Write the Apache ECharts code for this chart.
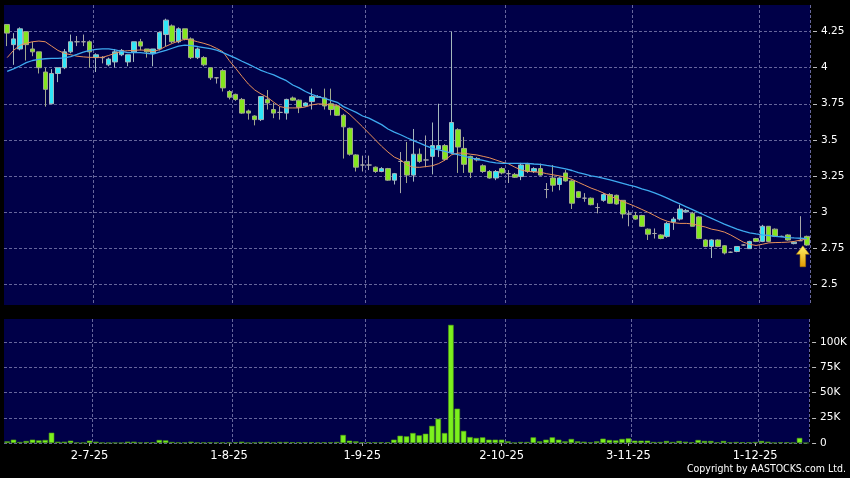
<!DOCTYPE html>
<html><head><meta charset="utf-8">
<script src="https://cdn.jsdelivr.net/npm/echarts@6/dist/echarts.min.js"></script>
<style>html,body{margin:0;padding:0;background:#000}#c{width:850px;height:478px}</style>
</head><body><div id="c"></div>
<script>
// trading days (d-m-yy)
const jun = [12,13,16,17,18,19,20,23,24,25,26,27,30];
const jul = [2,3,4,7,8,9,10,11,14,15,16,17,18,21,22,23,24,25,28,29,30,31];
const aug = [1,4,5,6,7,8,11,12,13,14,15,18,19,20,21,22,25,26,27,28,29];
const sep = [1,2,3,4,5,8,9,10,11,12,15,16,17,18,19,22,23,24,25,26,29,30];
const oct = [2,3,6,8,9,10,13,14,15,16,17,20,21,22,23,24,27,28,30,31];
const nov = [3,4,5,6,7,10,11,12,13,14,17,18,19,20,21,24,25,26,27,28];
const dec = [1,2,3,4,5,8,9,10,11];
const categories = [].concat(
  jun.map(d => d + '-6-25'), jul.map(d => d + '-7-25'), aug.map(d => d + '-8-25'),
  sep.map(d => d + '-9-25'), oct.map(d => d + '-10-25'), nov.map(d => d + '-11-25'),
  dec.map(d => d + '-12-25'));
const tickLabels = ['2-7-25','1-8-25','1-9-25','2-10-25','3-11-25','1-12-25'];
const priceTicks = [2.5, 2.75, 3, 3.25, 3.5, 3.75, 4, 4.25];
const volumeTicks = [0, 25000, 50000, 75000, 100000];

const opens = [
4.30,4.16,4.13,4.25,4.13,4.11,3.97,3.75,3.96,4.00,
4.11,4.18,4.18,4.18,4.07,4.07,4.02,4.04,4.09,4.04,
4.11,4.18,4.13,4.10,4.13,4.23,4.29,4.18,4.27,4.20,
4.07,4.07,4.00,3.93,3.98,3.835,3.815,3.78,3.70,3.665,
3.64,3.78,3.71,3.69,3.685,3.79,3.775,3.735,3.765,3.795,
3.79,3.75,3.735,3.67,3.58,3.395,3.325,3.325,3.31,3.28,
3.30,3.22,3.35,3.35,3.255,3.40,3.36,3.385,3.435,3.46,
3.41,3.57,3.44,3.385,3.37,3.32,3.28,3.235,3.30,3.265,
3.26,3.245,3.33,3.28,3.30,3.155,3.235,3.19,3.27,3.215,
3.14,3.095,3.095,3.03,3.08,3.12,3.115,3.08,2.985,2.975,
2.975,2.88,2.85,2.84,2.83,2.93,2.95,3.00,2.99,2.965,
2.805,2.76,2.805,2.765,2.72,2.725,2.77,2.745,2.815,2.795,
2.90,2.88,2.83,2.84,2.78,2.80,2.83];
const closes = [
4.24,4.20,4.27,4.16,4.11,4.00,3.85,3.96,4.00,4.11,
4.18,4.18,4.18,4.11,4.09,4.07,4.06,4.11,4.12,4.09,
4.18,4.15,4.11,4.13,4.245,4.33,4.18,4.27,4.20,4.07,
4.13,4.02,3.93,3.93,3.86,3.795,3.78,3.685,3.685,3.64,
3.80,3.755,3.685,3.69,3.78,3.775,3.725,3.755,3.80,3.80,
3.735,3.71,3.67,3.59,3.40,3.31,3.325,3.325,3.28,3.30,
3.22,3.265,3.35,3.255,3.40,3.35,3.36,3.46,3.46,3.365,
3.62,3.45,3.33,3.275,3.36,3.28,3.235,3.28,3.27,3.265,
3.24,3.325,3.28,3.30,3.255,3.155,3.185,3.235,3.215,3.06,
3.10,3.095,3.05,3.03,3.12,3.06,3.055,2.985,2.985,2.95,
2.90,2.845,2.85,2.815,2.92,2.95,3.02,3.01,2.90,2.815,
2.76,2.805,2.76,2.715,2.72,2.76,2.77,2.795,2.795,2.90,
2.795,2.83,2.83,2.805,2.79,2.80,2.77];
const lows = [
4.15,4.02,4.12,4.05,4.08,3.96,3.73,3.75,3.90,3.99,
4.10,4.15,4.15,4.00,3.97,4.03,4.01,4.00,4.08,4.01,
4.04,4.12,4.07,4.01,4.12,4.15,4.17,4.17,4.19,4.06,
4.06,4.01,3.915,3.89,3.835,3.78,3.77,3.68,3.64,3.60,
3.63,3.71,3.65,3.64,3.64,3.77,3.685,3.73,3.71,3.79,
3.71,3.67,3.665,3.37,3.39,3.28,3.28,3.29,3.27,3.275,
3.215,3.19,3.13,3.20,3.21,3.34,3.31,3.26,3.38,3.355,
3.40,3.27,3.27,3.235,3.35,3.27,3.23,3.22,3.26,3.20,
3.235,3.22,3.27,3.27,3.25,3.095,3.14,3.15,3.21,3.02,
3.095,3.07,3.045,2.99,3.07,3.055,3.05,2.955,2.90,2.945,
2.895,2.805,2.815,2.81,2.82,2.875,2.94,2.995,2.90,2.81,
2.755,2.68,2.755,2.705,2.715,2.72,2.765,2.745,2.79,2.79,
2.79,2.825,2.825,2.80,2.775,2.80,2.765];
const highs = [
4.30,4.24,4.28,4.25,4.18,4.11,4.00,3.99,4.00,4.13,
4.23,4.22,4.23,4.19,4.10,4.08,4.07,4.13,4.13,4.09,
4.18,4.20,4.13,4.13,4.25,4.34,4.30,4.28,4.27,4.21,
4.14,4.08,4.00,3.935,3.99,3.845,3.82,3.79,3.71,3.67,
3.80,3.845,3.755,3.73,3.785,3.80,3.78,3.76,3.855,3.81,
3.855,3.855,3.74,3.68,3.585,3.40,3.39,3.39,3.315,3.31,
3.305,3.27,3.415,3.485,3.575,3.44,3.53,3.62,3.75,3.47,
4.25,3.58,3.52,3.39,3.38,3.33,3.29,3.29,3.31,3.29,
3.27,3.34,3.34,3.31,3.335,3.20,3.325,3.24,3.29,3.22,
3.145,3.13,3.10,3.06,3.13,3.13,3.12,3.08,3.01,3.00,
2.98,2.885,2.885,2.845,2.93,2.965,3.05,3.02,3.00,2.97,
2.81,2.81,2.81,2.77,2.725,2.76,2.775,2.80,2.82,2.91,
2.90,2.885,2.835,2.845,2.795,2.97,2.835];
const maShort = [
4.07,4.12,4.155,4.17,4.18,4.185,4.18,4.15,4.12,4.10,
4.09,4.08,4.075,4.072,4.072,4.072,4.085,4.10,4.113,4.118,
4.12,4.123,4.12,4.112,4.125,4.148,4.168,4.185,4.197,4.192,
4.18,4.169,4.155,4.134,4.111,4.049,3.996,3.94,3.887,3.846,
3.818,3.795,3.761,3.73,3.721,3.721,3.721,3.728,3.742,3.749,
3.747,3.74,3.74,3.71,3.675,3.633,3.59,3.545,3.50,3.455,
3.415,3.38,3.36,3.325,3.31,3.309,3.314,3.32,3.335,3.36,
3.395,3.408,3.407,3.40,3.395,3.385,3.375,3.36,3.345,3.333,
3.31,3.29,3.281,3.277,3.275,3.265,3.257,3.25,3.24,3.225,
3.205,3.185,3.165,3.149,3.13,3.11,3.09,3.072,3.055,3.037,
3.017,2.997,2.975,2.952,2.935,2.925,2.92,2.92,2.916,2.905,
2.895,2.88,2.872,2.86,2.84,2.815,2.79,2.775,2.767,2.775,
2.785,2.787,2.788,2.79,2.795,2.805,2.81];
const maLong = [
3.975,3.992,4.012,4.035,4.05,4.058,4.062,4.065,4.065,4.068,
4.077,4.092,4.108,4.12,4.127,4.13,4.13,4.123,4.113,4.105,
4.104,4.104,4.10,4.095,4.108,4.12,4.135,4.15,4.157,4.153,
4.147,4.14,4.132,4.122,4.105,4.085,4.066,4.045,4.025,4.003,
3.982,3.965,3.95,3.93,3.91,3.88,3.86,3.835,3.815,3.80,
3.787,3.774,3.76,3.73,3.71,3.69,3.665,3.65,3.628,3.605,
3.575,3.553,3.535,3.514,3.494,3.477,3.458,3.441,3.43,3.419,
3.408,3.397,3.386,3.375,3.365,3.357,3.347,3.34,3.337,3.337,
3.337,3.337,3.337,3.332,3.33,3.322,3.315,3.307,3.298,3.287,
3.273,3.262,3.25,3.242,3.232,3.222,3.21,3.198,3.186,3.175,
3.16,3.147,3.132,3.115,3.095,3.075,3.055,3.035,3.015,2.995,
2.975,2.955,2.935,2.915,2.897,2.88,2.866,2.855,2.847,2.841,
2.836,2.83,2.826,2.822,2.819,2.817,2.815];
const volumes = [
1600,3300,1000,2000,3300,2600,3000,10200,1300,1300,
2300,500,300,2300,1300,300,200,300,200,1300,
1300,500,700,700,3000,2600,1000,500,500,1300,
500,500,700,500,500,500,700,1300,300,500,
1000,1000,500,1000,1000,700,700,700,700,500,
700,700,1000,8000,2300,1600,700,700,700,700,
700,3300,7200,6600,9900,7600,9200,17000,24000,9900,
117000,34000,12000,5900,5000,5600,3300,3300,3300,1600,
300,1000,1000,5600,1600,3300,5600,3300,1600,4000,
1600,1300,700,1600,4300,3000,2600,4000,4600,2300,
2300,2300,1000,1000,2000,1000,2000,1300,700,3000,
2000,2000,700,2000,700,1000,700,700,1000,2000,
1300,300,700,700,300,5000,0];

const candleData = opens.map((o, i) => [o, closes[i], lows[i], highs[i]]);
const last = categories.length - 1;

const gridLine = { show: true, lineStyle: { color: '#66669c', type: [3, 2], width: 1 } };
const isLabel = (idx, val) => tickLabels.indexOf(val) >= 0;
const isSplit = (idx) => idx > 0 && tickLabels.indexOf(categories[idx - 1]) >= 0;
const font = 'DejaVu Sans';

const chart = echarts.init(document.getElementById('c'), null, { renderer: 'canvas' });
chart.setOption({
  backgroundColor: '#000000',
  animation: false,
  grid: [
    { left: 4, right: 40, top: 5, height: 300, show: true, backgroundColor: '#000048', borderWidth: 0 },
    { left: 4, right: 40, top: 319, height: 124, show: true, backgroundColor: '#000048', borderWidth: 0 }
  ],
  xAxis: [
    { type: 'category', gridIndex: 0, data: categories, boundaryGap: true,
      axisLine: { show: false }, axisTick: { show: false }, axisLabel: { show: false },
      splitLine: Object.assign({ interval: isSplit }, gridLine) },
    { type: 'category', gridIndex: 1, data: categories, boundaryGap: true, offset: 3,
      axisLine: { show: false },
      axisTick: { show: true, alignWithLabel: true, interval: isLabel, length: 3, lineStyle: { color: '#aaaaaa' } },
      axisLabel: { show: true, interval: isLabel, color: '#ffffff', fontFamily: font, fontSize: 11.5, margin: 4 },
      splitLine: Object.assign({ interval: isSplit }, gridLine) }
  ],
  yAxis: [
    { type: 'value', gridIndex: 0, position: 'right', min: 2.354, max: 4.435, offset: 3, scale: true,
      axisLine: { show: false },
      axisTick: { show: true, length: 4, customValues: priceTicks, lineStyle: { color: '#bbbbbb' } },
      axisLabel: { show: true, customValues: priceTicks, color: '#ffffff', fontFamily: font, fontSize: 10.5, margin: 8 },
      splitLine: gridLine },
    { type: 'value', gridIndex: 1, position: 'right', min: 0, max: 122800, offset: 3,
      axisLine: { show: false },
      axisTick: { show: true, length: 4, customValues: volumeTicks, lineStyle: { color: '#bbbbbb' } },
      axisLabel: { show: true, customValues: volumeTicks, color: '#ffffff', fontFamily: font, fontSize: 10.5, margin: 8,
        formatter: v => v === 0 ? '0' : (v / 1000) + 'K' },
      splitLine: gridLine }
  ],
  series: [
    { type: 'candlestick', xAxisIndex: 0, yAxisIndex: 0, data: candleData, barWidth: 5, z: 2,
      itemStyle: { color: '#2ee6f8', color0: '#84e61e', borderColor: '#a4b8bc', borderColor0: '#a2aa8c',
        borderColorDoji: '#a8a8a8', borderWidth: 1 },
      emphasis: { disabled: true },
      markPoint: {
        silent: true,
        symbol: 'path://M7,0 L14,9 L10,9 L10,22 L4,22 L4,9 L0,9 Z',
        symbolSize: [13, 21],
        symbolOffset: [-4, '50%'],
        label: { show: false },
        itemStyle: { color: { type: 'linear', x: 0, y: 0, x2: 0, y2: 1,
          colorStops: [{ offset: 0, color: '#fff36a' }, { offset: 1, color: '#e39a00' }] },
          borderColor: '#b07800', borderWidth: 0.5 },
        data: [{ coord: [categories[last], lows[last]] }]
      } },
    { type: 'line', xAxisIndex: 0, yAxisIndex: 0, data: maShort, symbol: 'none', z: 3, silent: true,
      lineStyle: { color: '#e8905a', width: 1 } },
    { type: 'line', xAxisIndex: 0, yAxisIndex: 0, data: maLong, symbol: 'none', z: 3, silent: true,
      lineStyle: { color: '#3eaaf0', width: 1.3 } },
    { type: 'bar', xAxisIndex: 1, yAxisIndex: 1, data: volumes, barWidth: 5.5, silent: true,
      itemStyle: { color: '#7cf01e', borderColor: '#4e9a14', borderWidth: 0.6 } }
  ],
  graphic: [
    { type: 'text', right: 4, top: 464,
      style: { text: 'Copyright by AASTOCKS.com Ltd.', fill: '#ffffff',
        font: '10.5px "DejaVu Sans Condensed", "DejaVu Sans"' } }
  ]
});
</script>
</body></html>
